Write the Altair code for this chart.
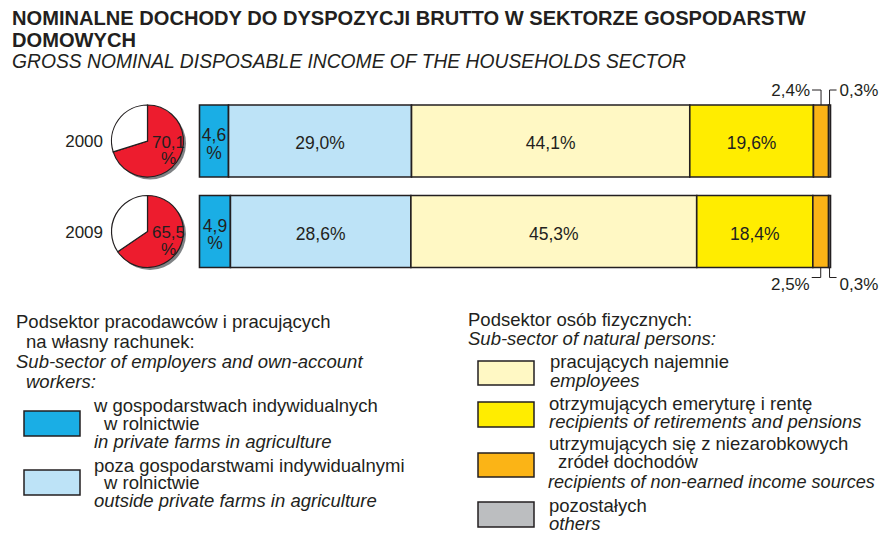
import math
import altair as alt
import pandas as pd

# ---------------- data ----------------
years = ["2000", "2009"]
categories = ["farms", "outside_farms", "employees", "pensions", "non_earned", "others"]
values_2000 = [4.6, 29.0, 44.1, 19.6, 2.4, 0.3]
values_2009 = [4.9, 28.6, 45.3, 18.4, 2.5, 0.3]
pie_red_share = [70.1, 65.5]
cat_colors = ["#1aaee5", "#bde3f7", "#fff8c4", "#ffed00", "#fbb416", "#bcbec0"]
pie_colors = ["#ed1c2e", "#ffffff"]

# ---------------- style ----------------
FONT = "Liberation Sans"
DARK = "#231f20"
PX_PER_ROW = 90.5          # distance between the two bar centres
HALF = 36 / PX_PER_ROW     # half bar thickness, in row units
PX_PER_PCT = 6.31

X_BAR = alt.Scale(domain=[0, 100], range=[191.5, 822.5])
Y_ROW = alt.Scale(domain=[0, 1], range=[133, 223.5])
THETA = alt.Scale(domain=[0, 100], range=[0, 2 * math.pi])


def fmt(v):
    return f"{v:.1f}".replace(".", ",")


def Y(field):
    return alt.Y(field, type="quantitative", scale=Y_ROW, axis=None, stack=None)


def X(field):
    return alt.X(field, type="quantitative", scale=X_BAR, axis=None, stack=None)


# bar table
bar_rows = []
for r, (yr, vals) in enumerate(zip(years, [values_2000, values_2009])):
    start = 0.0
    for i, (c, v) in enumerate(zip(categories, vals)):
        end = start + v
        if i == 0:
            label = fmt(v) + "\n%"
        elif i <= 3:
            label = fmt(v) + "%"
        else:
            label = ""
        bar_rows.append(dict(year=yr, row=r, cat=c, idx=i, color=cat_colors[i], start=start, end=end,
                             mid=(start + end) / 2, top=r - HALF, bot=r + HALF, label=label,
                             small=i >= 4, small_label=fmt(v) + "%", side=("left" if i == 4 else "right")))
        start = end
bars = pd.DataFrame(bar_rows)

bar_layer = alt.Chart(bars).mark_rect(stroke=DARK, strokeWidth=1.6).encode(
    x=X("start"), x2="end:Q", y=Y("top"), y2="bot:Q",
    fill=alt.Fill("color:N", scale=None),
)

bar_text = alt.Chart(bars).transform_filter("datum.idx >= 1 && datum.idx <= 3").mark_text(
    font=FONT, fontSize=17.5, color=DARK, baseline="middle", align="center", dy=3
).encode(x=X("mid"), y=Y("row"), text="label:N")

bar_text_narrow = alt.Chart(bars).transform_filter("datum.idx == 0").mark_text(
    font=FONT, fontSize=17.5, color=DARK, baseline="middle", align="center", lineBreak="\n",
    lineHeight=17.5, dy=-5
).encode(x=X("mid"), y=Y("row"), text="label:N")

# leader lines for the small segments
small = bars[bars["small"]].copy()
small["edge"] = small.apply(lambda d: d["top"] if d["row"] == 0 else d["bot"], axis=1)
small["edge2"] = small.apply(lambda d: d["edge"] - 15 / PX_PER_ROW if d["row"] == 0 else d["edge"] + 10 / PX_PER_ROW, axis=1)
small["xend"] = small.apply(lambda d: d["mid"] - 9 / PX_PER_PCT if d["side"] == "left" else d["mid"] + 7 / PX_PER_PCT, axis=1)
small["ytext"] = small.apply(lambda d: d["edge2"] if d["row"] == 0 else d["edge2"] + 6 / PX_PER_ROW, axis=1)
small["xtext"] = small.apply(lambda d: d["xend"] - 2 / PX_PER_PCT if d["side"] == "left" else d["xend"] + 3 / PX_PER_PCT, axis=1)

lead_v = alt.Chart(small).mark_rule(color=DARK, strokeWidth=1).encode(
    x=X("mid"), y=Y("edge"), y2="edge2:Q",
)
lead_h = alt.Chart(small).mark_rule(color=DARK, strokeWidth=1).encode(
    x=X("mid"), x2="xend:Q", y=Y("edge2"),
)
lead_t_left = alt.Chart(small[small["side"] == "left"]).mark_text(
    font=FONT, fontSize=17, color=DARK, align="right", baseline="middle", dy=1
).encode(x=X("xtext"), y=Y("ytext"), text="small_label:N")
lead_t_right = alt.Chart(small[small["side"] == "right"]).mark_text(
    font=FONT, fontSize=17, color=DARK, align="left", baseline="middle", dy=1
).encode(x=X("xtext"), y=Y("ytext"), text="small_label:N")

# pies
PIE_X = 139.5
pie_layers = []
for r, (yr, share) in enumerate(zip(years, pie_red_share)):
    pdata = pd.DataFrame(dict(row=[r, r], t0=[0.0, share], t1=[share, 100.0], color=pie_colors))
    sdata = pd.DataFrame(dict(row=[r], t0=[0.0], t1=[100.0]))
    ldata = pd.DataFrame(dict(row=[r], label=[fmt(share) + "\n%"]))
    pie_layers.append(alt.Chart(sdata).mark_arc(radius=36, fill="#808285", xOffset=2.5, yOffset=2.5).encode(
        x=alt.value(PIE_X), y=Y("row"),
        theta=alt.Theta("t0:Q", scale=THETA, stack=None), theta2="t1:Q",
    ))
    pie_layers.append(alt.Chart(pdata).mark_arc(radius=36, stroke=DARK, strokeWidth=1.2).encode(
        x=alt.value(PIE_X), y=Y("row"),
        theta=alt.Theta("t0:Q", scale=THETA, stack=None), theta2="t1:Q",
        fill=alt.Fill("color:N", scale=None),
    ))
    pie_layers.append(alt.Chart(ldata).mark_text(
        font=FONT, fontSize=17, color=DARK, align="center", baseline="middle", lineBreak="\n",
        lineHeight=16.5, dy=1.5
    ).encode(x=alt.value(160.5), y=Y("row"), text="label:N"))

year_text = alt.Chart(pd.DataFrame(dict(year=years, row=[0, 1]))).mark_text(
    font=FONT, fontSize=17, color=DARK, align="right", baseline="middle", dy=1
).encode(x=alt.value(95), y=Y("row"), text="year:N")

# ---------------- static texts ----------------
ONE = pd.DataFrame({"a": [0]})


def txt(s, x, y, size=18.5, italic=False, bold=False, align="left"):
    return alt.Chart(ONE).mark_text(
        font=FONT, fontSize=size, fontStyle="italic" if italic else "normal",
        fontWeight="bold" if bold else "normal", color=DARK, align=align, baseline="alphabetic"
    ).encode(x=alt.value(x - 8), y=alt.value(y - 8), text=alt.value(s))


def box(color, x0, x1, y0, y1):
    return alt.Chart(ONE).mark_rect(fill=color, stroke=DARK, strokeWidth=1.5).encode(
        x=alt.value(x0 - 8), x2=alt.value(x1 - 8), y=alt.value(y0 - 8), y2=alt.value(y1 - 8)
    )


statics = [
    txt("NOMINALNE DOCHODY DO DYSPOZYCJI BRUTTO W SEKTORZE GOSPODARSTW", 12, 25, size=20.1, bold=True),
    txt("DOMOWYCH", 12, 46.5, size=20.1, bold=True),
    txt("GROSS NOMINAL DISPOSABLE INCOME OF THE HOUSEHOLDS SECTOR", 12, 68, size=19.3, italic=True),
    # left legend
    txt("Podsektor pracodawców i pracujących", 16, 328),
    txt("na własny rachunek:", 26, 348),
    txt("Sub-sector of employers and own-account", 16, 368, italic=True),
    txt("workers:", 26, 388, italic=True),
    box(cat_colors[0], 24, 80, 411, 436),
    txt("w gospodarstwach indywidualnych", 94, 412),
    txt("w rolnictwie", 104, 430),
    txt("in private farms in agriculture", 94, 448, italic=True),
    box(cat_colors[1], 24, 80, 470, 495),
    txt("poza gospodarstwami indywidualnymi", 94, 472),
    txt("w rolnictwie", 104, 489),
    txt("outside private farms in agriculture", 94, 507, italic=True),
    # right legend
    txt("Podsektor osób fizycznych:", 468, 326),
    txt("Sub-sector of natural persons:", 468, 345, italic=True),
    box(cat_colors[2], 478, 534, 361, 385),
    txt("pracujących najemnie", 550, 368),
    txt("employees", 550, 387, italic=True),
    box(cat_colors[3], 478, 534, 402, 427),
    txt("otrzymujących emeryturę i rentę", 549, 410),
    txt("recipients of retirements and pensions", 549, 428, italic=True),
    box(cat_colors[4], 478, 534, 453, 477),
    txt("utrzymujących się z niezarobkowych", 549, 450),
    txt("zródeł dochodów", 558, 468),
    txt("recipients of non-earned income sources", 548, 488, size=18.1, italic=True),
    box(cat_colors[5], 478, 534, 502, 527),
    txt("pozostałych", 549, 512),
    txt("others", 549, 530, italic=True),
]

chart = alt.layer(
    bar_layer, bar_text, bar_text_narrow, lead_v, lead_h, lead_t_left, lead_t_right,
    *pie_layers, year_text, *statics
).properties(
    width=872, height=527, autosize="none", padding=0, background="white"
).configure_view(stroke=None)

chart.save("out.html", embed_options={"renderer": "svg", "actions": False})
